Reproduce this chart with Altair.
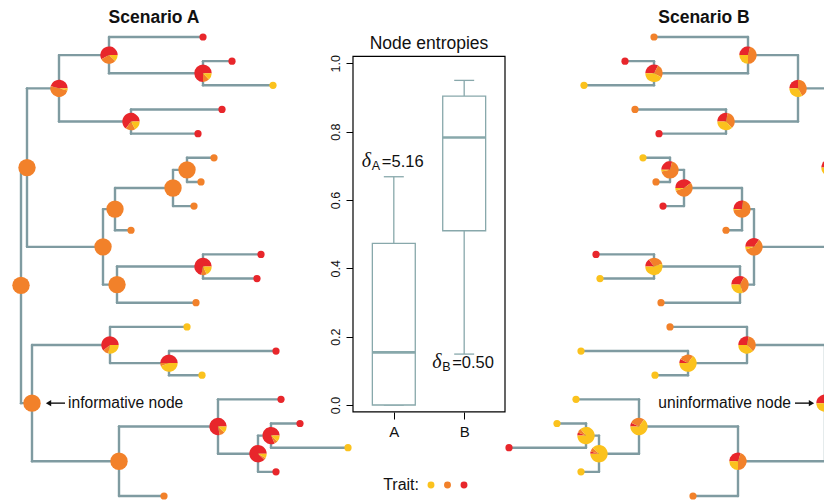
import json
import altair as alt
import pandas as pd

# ---------------- colours ----------------
RED, ORANGE, YELLOW = "#E8262B", "#F2812A", "#FBC21D"
EDGE = "#7F9BA1"
BOXC = "#88A8AB"

trait_states = ["yellow", "orange", "red"]
trait_colors = [YELLOW, ORANGE, RED]

# ---------------- tree (same topology in both scenarios) ----------------
# leaves from top to bottom: depth from the root
leaf_depth = [182, 211, 252, 201, 177, 193, 180, 173, 110, 240,
              236, 175, 166, 255, 181, 260, 279, 327, 255, 143]
tips_A = ["red", "red", "yellow", "red", "red", "orange", "orange", "orange", "orange", "red",
          "red", "orange", "yellow", "red", "yellow", "red", "red", "yellow", "red", "orange"]
tips_B = ["orange", "red", "yellow", "orange", "red", "yellow", "orange", "red", "orange", "red",
          "yellow", "orange", "orange", "yellow", "yellow", "yellow", "yellow", "red", "yellow", "orange"]

# internal nodes in post-order
node_names = ["Nb", "Na", "Nc", "Nd", "Ne", "Nf", "Ng", "Nh", "Ni", "Nj",
              "Nk", "Nl", "Nm", "Nn", "No", "Np", "Nq", "Nr", "root"]
node_depth = [182, 88, 110, 38, 166, 152, 94, 182, 96, 82,
              6, 148, 89, 250, 237, 197, 98, 11, 0]
node_children = [["L1", "L2"], ["L0", "Nb"], ["L3", "L4"], ["Na", "Nc"], ["L5", "L6"],
                 ["Ne", "L7"], ["Nf", "L8"], ["L9", "L10"], ["Nh", "L11"], ["Ng", "Ni"],
                 ["Nd", "Nj"], ["L13", "L14"], ["L12", "Nl"], ["L16", "L17"], ["Nn", "L18"],
                 ["L15", "No"], ["Np", "L19"], ["Nm", "Nq"], ["Nk", "Nr"]]

# ancestral state probabilities at internal nodes (red, orange, yellow)
pieA_red = [.75, .58, .65, .46, 0, 0, 0, .72, 0, 0, 0, .50, .61, .82, .88, .78, 0, 0, 0]
pieA_orange = [.12, .30, .18, .50, 1, 1, 1, .10, 1, 1, 1, .06, .11, .06, .04, .10, 1, 1, 1]
pieA_yellow = [.13, .12, .17, .04, 0, 0, 0, .18, 0, 0, 0, .44, .28, .12, .08, .12, 0, 0, 0]

pieB_red = [.33, .29, .28, .25, .29, .40, .27, .15, .33, .35, .30, .08, .28, .06, .04, .07, .30, .33, .33]
pieB_orange = [.25, .46, .35, .42, .68, .55, .71, .30, .37, .60, .40, .27, .35, .08, .08, .28, .45, .34, .34]
pieB_yellow = [.42, .25, .37, .33, .03, .05, .02, .55, .30, .05, .30, .65, .37, .86, .88, .65, .25, .33, .33]

# ---------------- box plot of node entropies ----------------
box_groups = ["A", "B"]
box_pos = [1, 2]
box_min = [0.0, 0.149]
box_q1 = [0.0, 0.510]
box_med = [0.154, 0.783]
box_q3 = [0.473, 0.904]
box_max = [0.668, 0.950]
delta_vals = ["=5.16", "=0.50"]
delta_y = [0.712, 0.123]

# ---------------- build tables ----------------
ypos, dep = {}, {}
for i, d in enumerate(leaf_depth):
    ypos[f"L{i}"] = float(i)
    dep[f"L{i}"] = d
for n, d, ch in zip(node_names, node_depth, node_children):
    dep[n] = d
    ypos[n] = sum(ypos[c] for c in ch) / len(ch)

edge_rows = []
for n, ch in zip(node_names, node_children):
    ys = [ypos[c] for c in ch]
    edge_rows.append(dict(x1=dep[n], x2=dep[n], y1=min(ys), y2=max(ys)))
    for c in ch:
        edge_rows.append(dict(x1=dep[n], x2=dep[c], y1=ypos[c], y2=ypos[c]))
edges = pd.DataFrame(edge_rows)

leavesA = pd.DataFrame({"depth": leaf_depth, "y": list(range(20)), "state": tips_A})
leavesB = pd.DataFrame({"depth": leaf_depth, "y": list(range(20)), "state": tips_B})


def pie_table(r, o, y):
    rows = []
    for i, n in enumerate(node_names):
        for k, (s, p) in enumerate(zip(["red", "orange", "yellow"], [r[i], o[i], y[i]])):
            rows.append(dict(node=n, depth=dep[n], y=ypos[n], k=k, state=s, p=p))
    return pd.DataFrame(rows)


piesA = pie_table(pieA_red, pieA_orange, pieA_yellow)
piesB = pie_table(pieB_red, pieB_orange, pieB_yellow)

box = pd.DataFrame({"g": box_groups, "pos": box_pos, "mn": box_min, "q1": box_q1,
                    "med": box_med, "q3": box_q3, "mx": box_max,
                    "val": delta_vals, "ty": delta_y})

# ---------------- scales ----------------
xA = alt.Scale(domain=[-21, 803], nice=False, zero=False)
xB = alt.Scale(domain=[12, 836], reverse=True, nice=False, zero=False)
yT = alt.Scale(domain=[-1.5316, 19.166], reverse=True, nice=False, zero=False)
bx = alt.Scale(domain=[0.42, 2.58], range=[353, 505], nice=False, zero=False)
by = alt.Scale(domain=[0, 1], range=[405, 63.3], nice=False, zero=False)
col = alt.Color("state:N", scale=alt.Scale(domain=trait_states, range=trait_colors), legend=None)

FONT = "Liberation Sans"
INK = "#111111"


def tree_layers(xs, leaves, pies, left):
    e = alt.Chart(edges).mark_rule(color=EDGE, strokeWidth=2.4, strokeCap="round").encode(
        x=alt.X("x1:Q", scale=xs, axis=None), x2="x2:Q",
        y=alt.Y("y1:Q", scale=yT, axis=None), y2="y2:Q")
    lv = alt.Chart(leaves).mark_circle(size=52, opacity=1).encode(
        x=alt.X("depth:Q", scale=xs, axis=None),
        y=alt.Y("y:Q", scale=yT, axis=None), color=col)
    if left:
        t0 = "2.5*PI - 2*PI*datum.cum"
        t1 = "2.5*PI - 2*PI*(datum.cum - datum.p)"
    else:
        t0 = "1.5*PI + 2*PI*(datum.cum - datum.p)"
        t1 = "1.5*PI + 2*PI*datum.cum"
    pc = alt.Chart(pies).transform_filter("datum.p > 0").transform_window(
        cum="sum(p)", groupby=["node"], sort=[alt.SortField("k")]
    ).transform_calculate(t0=t0, t1=t1).mark_arc(outerRadius=8.7).encode(
        x=alt.X("depth:Q", scale=xs, axis=None),
        y=alt.Y("y:Q", scale=yT, axis=None),
        theta=alt.Theta("t0:Q", scale=None), theta2="t1:Q", color=col)
    return [e, lv, pc]


layers = tree_layers(xA, leavesA, piesA, True) + tree_layers(xB, leavesB, piesB, False)

# node annotations (arrow = shaft + head)
annA = pd.DataFrame({"depth": [dep["Nr"]], "y": [ypos["Nr"]]})
arrow_y = alt.Y("y:Q", scale=yT, axis=None)
layers.append(alt.Chart(annA).mark_rule(color=INK, strokeWidth=1.4).encode(
    x=alt.value(49), x2=alt.value(65), y=arrow_y))
layers.append(alt.Chart(annA).mark_point(shape="triangle-left", filled=True, size=38, opacity=1,
                                          color=INK).encode(x=alt.value(48.5), y=arrow_y))
layers.append(alt.Chart(annA).mark_text(text="informative node", align="left", baseline="middle", dx=36,
                                         fontSize=15.6, font=FONT, color=INK).encode(
    x=alt.X("depth:Q", scale=xA, axis=None), y=arrow_y))
layers.append(alt.Chart(annA).mark_rule(color=INK, strokeWidth=1.4).encode(
    x=alt.value(795), x2=alt.value(811), y=arrow_y))
layers.append(alt.Chart(annA).mark_point(shape="triangle-right", filled=True, size=38, opacity=1,
                                          color=INK).encode(x=alt.value(811.5), y=arrow_y))
layers.append(alt.Chart(annA).mark_text(text="uninformative node", align="right", baseline="middle", dx=-34,
                                         fontSize=15.6, font=FONT, color=INK).encode(
    x=alt.X("depth:Q", scale=xB, axis=None), y=arrow_y))

# scenario titles
titles = pd.DataFrame({"t": ["Scenario A", "Scenario B"], "px": [154, 704]})
layers.append(alt.Chart(titles).mark_text(fontSize=17.5, fontWeight="bold", font=FONT,
                                           baseline="middle", color=INK).encode(
    x=alt.X("px:Q", scale=alt.Scale(domain=[0, 824], range=[0, 824], nice=False, zero=False), axis=None),
    y=alt.value(18), text="t:N"))

# ---------------- box plot ----------------
frame = pd.DataFrame({"fx": [0.42], "fx2": [2.58], "fy": [-0.02], "fy2": [1.02]})
yaxis = alt.Axis(orient="left", offset=-353, values=[0, 0.2, 0.4, 0.6, 0.8, 1.0], format=".1f",
                 labelAngle=270, labelAlign="center", labelBaseline="bottom", tickSize=7,
                 labelPadding=4, domainColor="black", tickColor="black", labelColor=INK,
                 labelFontSize=12.5, labelFont=FONT, grid=False, title=None, labelFlush=False,
                 labelOverlap=False)
xaxis = alt.Axis(orient="bottom", offset=-88, values=box_pos,
                 labelExpr=json.dumps(box_groups) + "[datum.value - 1]",
                 tickSize=7, labelPadding=5, domain=False, grid=False, title=None,
                 labelFontSize=15, labelFont=FONT, labelColor=INK, tickColor="black",
                 labelFlush=False, labelOverlap=False)
layers.append(alt.Chart(frame).mark_rect(fill="white", stroke="black", strokeWidth=1.2).encode(
    x=alt.X("fx:Q", scale=bx, axis=xaxis), x2="fx2:Q",
    y=alt.Y("fy:Q", scale=by, axis=yaxis), y2="fy2:Q"))

bb = alt.Chart(box).transform_calculate(lo="datum.pos - 0.305", hi="datum.pos + 0.305",
                                         clo="datum.pos - 0.142", chi="datum.pos + 0.142")
layers.append(bb.mark_rule(color=BOXC, strokeWidth=1.3).encode(
    x=alt.X("pos:Q", scale=bx, axis=None), y=alt.Y("q3:Q", scale=by, axis=None), y2="mx:Q"))
layers.append(bb.mark_rule(color=BOXC, strokeWidth=1.3).encode(
    x=alt.X("pos:Q", scale=bx, axis=None), y=alt.Y("mn:Q", scale=by, axis=None), y2="q1:Q"))
layers.append(bb.mark_rule(color=BOXC, strokeWidth=1.3).encode(
    x=alt.X("clo:Q", scale=bx, axis=None), x2="chi:Q", y=alt.Y("mx:Q", scale=by, axis=None)))
layers.append(bb.mark_rule(color=BOXC, strokeWidth=1.3).encode(
    x=alt.X("clo:Q", scale=bx, axis=None), x2="chi:Q", y=alt.Y("mn:Q", scale=by, axis=None)))
layers.append(bb.mark_rect(fill="white", stroke=BOXC, strokeWidth=1.3).encode(
    x=alt.X("lo:Q", scale=bx, axis=None), x2="hi:Q",
    y=alt.Y("q1:Q", scale=by, axis=None), y2="q3:Q"))
layers.append(bb.mark_rule(color=BOXC, strokeWidth=2.6).encode(
    x=alt.X("lo:Q", scale=bx, axis=None), x2="hi:Q", y=alt.Y("med:Q", scale=by, axis=None)))

# delta annotations
layers.append(alt.Chart(box).mark_text(text="\u03b4", align="left", baseline="middle", dx=-32, dy=-1,
                                        fontSize=20, font="Liberation Serif", fontStyle="italic",
                                        color=INK).encode(
    x=alt.X("pos:Q", scale=bx, axis=None), y=alt.Y("ty:Q", scale=by, axis=None)))
layers.append(alt.Chart(box).mark_text(align="left", baseline="middle", dx=-22, dy=4,
                                        fontSize=12.5, font=FONT, color=INK).encode(
    x=alt.X("pos:Q", scale=bx, axis=None), y=alt.Y("ty:Q", scale=by, axis=None), text="g:N"))
layers.append(alt.Chart(box).mark_text(align="left", baseline="middle", dx=-12,
                                        fontSize=16.5, font=FONT, color=INK).encode(
    x=alt.X("pos:Q", scale=bx, axis=None), y=alt.Y("ty:Q", scale=by, axis=None), text="val:N"))

# panel title
layers.append(alt.Chart(pd.DataFrame({"t": ["Node entropies"], "pos": [1.5]})).mark_text(
    fontSize=17.5, font=FONT, baseline="middle", color=INK).encode(
    x=alt.X("pos:Q", scale=bx, axis=None), y=alt.value(44), text="t:N"))

# trait legend
legend_df = pd.DataFrame({"state": trait_states})
layers.append(alt.Chart(legend_df).mark_circle(size=48, opacity=1).encode(
    x=alt.X("state:N", scale=alt.Scale(domain=trait_states, range=[431, 464], padding=0), axis=None),
    y=alt.value(485), color=col))
layers.append(alt.Chart(pd.DataFrame({"t": ["Trait:"]})).mark_text(
    fontSize=16, font=FONT, align="right", baseline="middle", color=INK).encode(
    x=alt.value(419), y=alt.value(485), text="t:N"))

chart = alt.layer(*layers).resolve_scale(x="independent", y="independent").properties(
    width=824, height=500, autosize=alt.AutoSizeParams(type="none"), padding=0,
    background="white"
).configure_view(stroke=None)

chart.save("out.html", embed_options={"renderer": "svg", "actions": False})
